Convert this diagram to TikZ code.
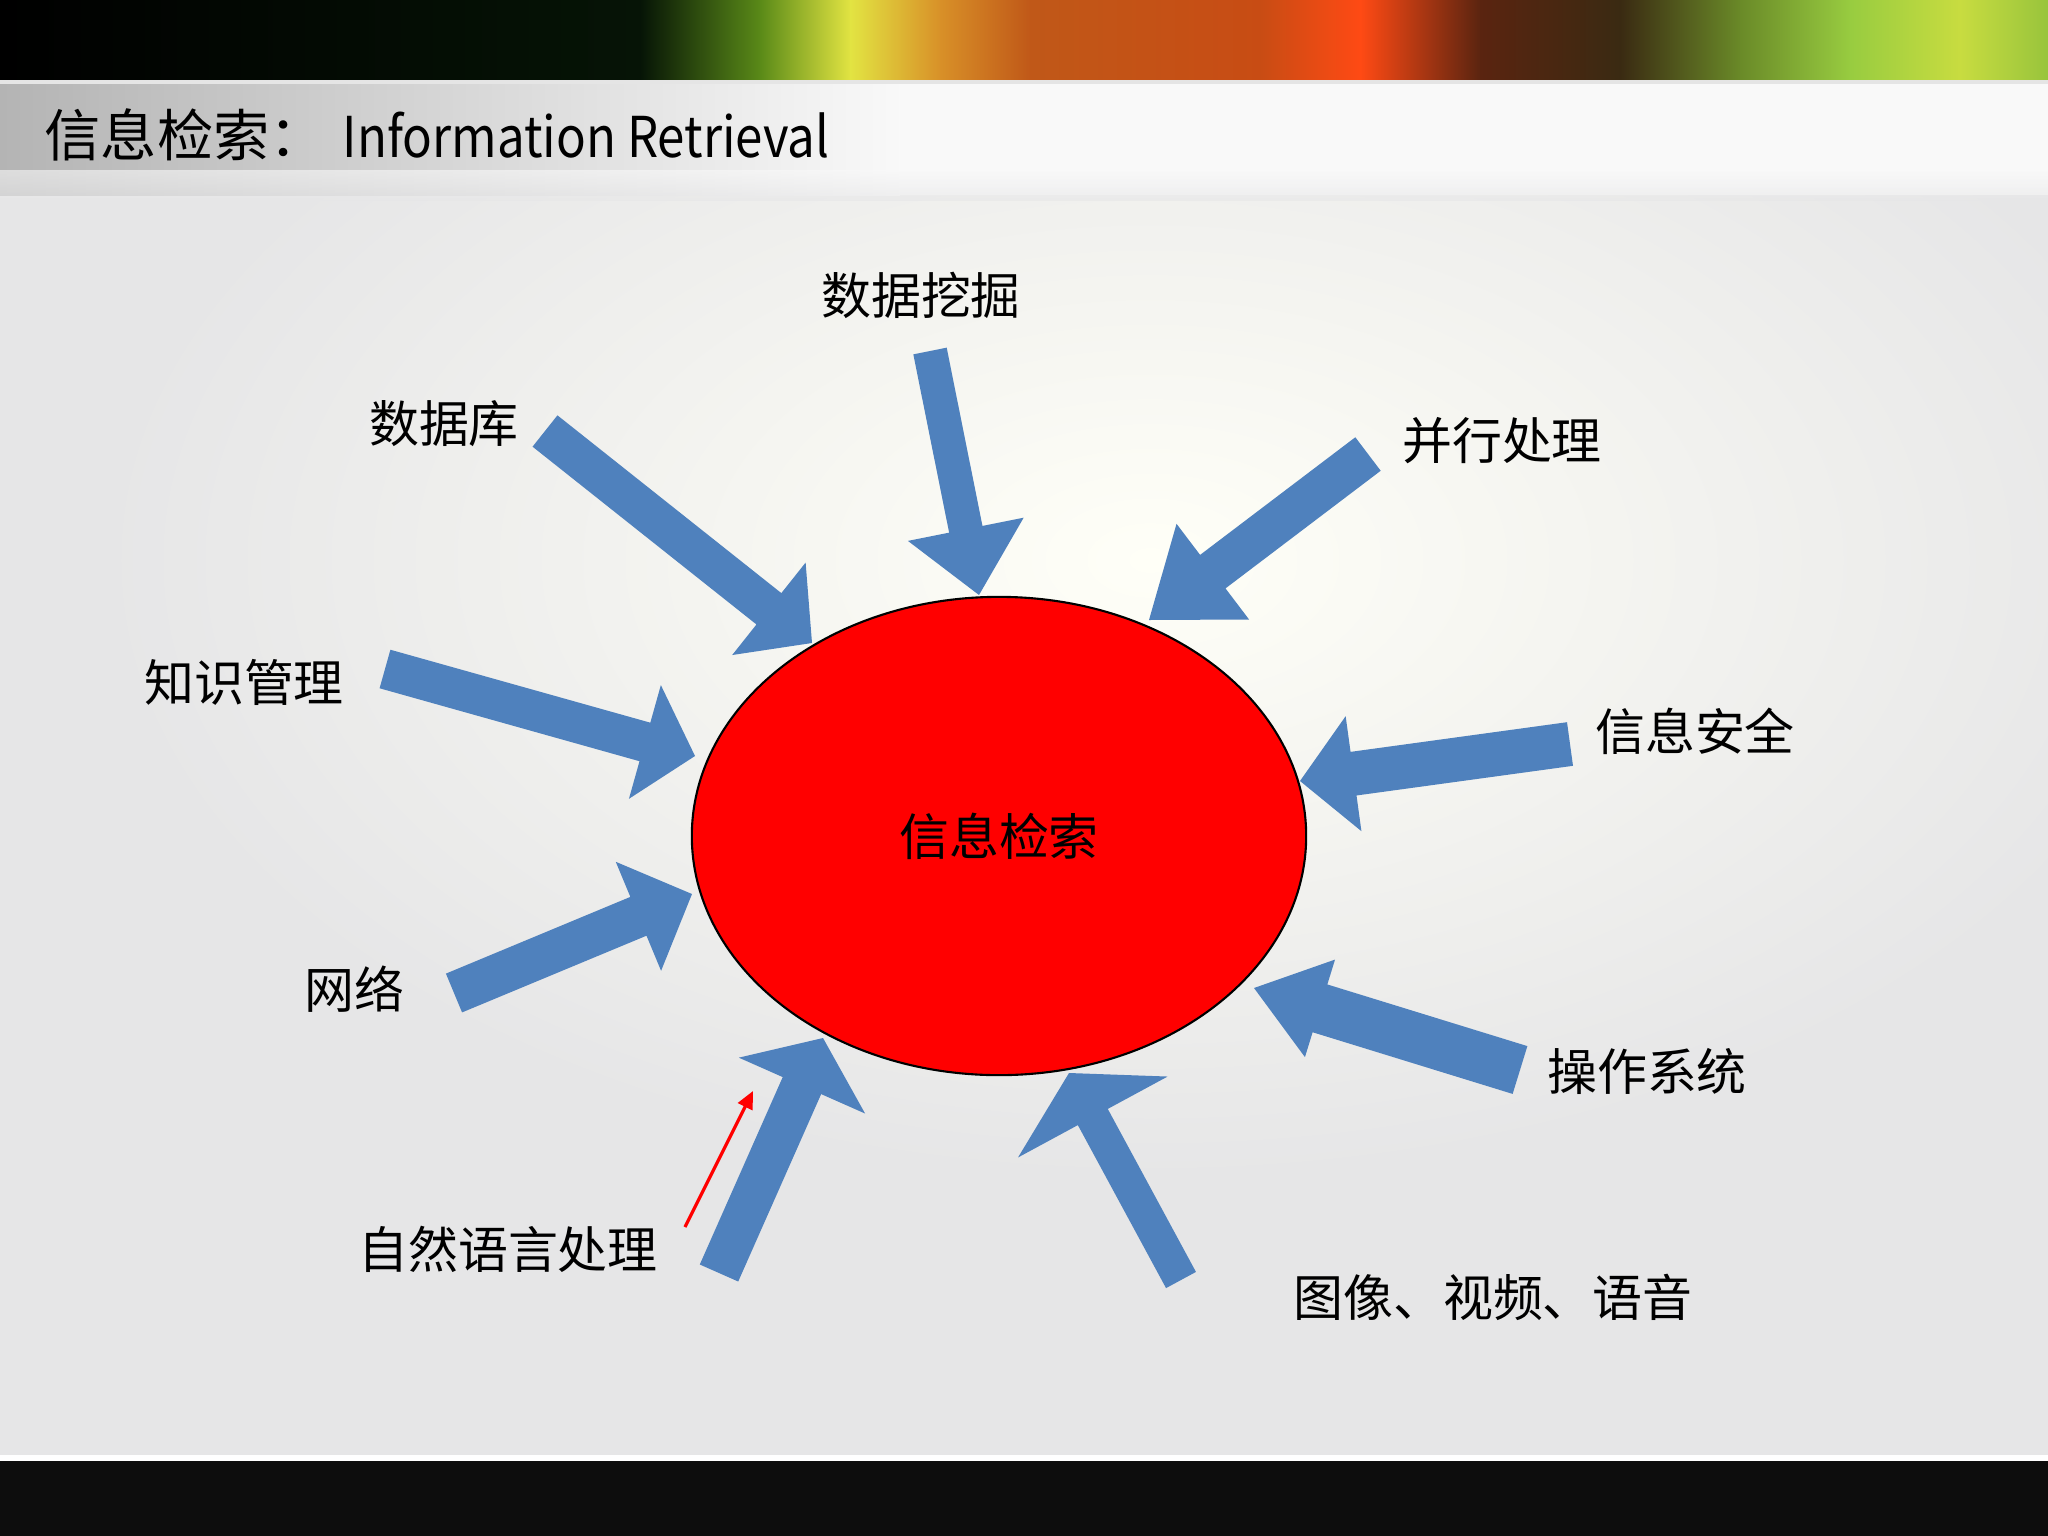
\documentclass[tikz,border=0pt]{standalone}
\usepackage{fontspec}
\newfontfamily\cjk{Noto Sans CJK SC}
\usetikzlibrary{calc,shapes.geometric,arrows.meta}

\definecolor{arrowblue}{HTML}{4F81BD}
\definecolor{bggray}{HTML}{E6E6E7}
\definecolor{titlegray}{HTML}{B4B4B4}
\definecolor{bara}{HTML}{000000}
\definecolor{barb}{HTML}{061406}
\definecolor{barc}{HTML}{5A8A18}
\definecolor{bard}{HTML}{E2E442}
\definecolor{bare}{HTML}{D89028}
\definecolor{barf}{HTML}{C05818}
\definecolor{barg}{HTML}{C84C14}
\definecolor{barh}{HTML}{FF4A14}
\definecolor{bari}{HTML}{5A2410}
\definecolor{barj}{HTML}{3A2A12}
\definecolor{bark}{HTML}{6A8A28}
\definecolor{barl}{HTML}{98CC40}
\definecolor{barm}{HTML}{C8DC40}
\definecolor{barn}{HTML}{98C43C}

\tikzset{
  lbl/.style={font=\cjk\fontsize{14.2}{17}\selectfont, inner sep=0pt},
  ttl/.style={font=\cjk\fontsize{16}{19}\selectfont, inner sep=0pt, anchor=west},
  blk/.style={fill=arrowblue},
}

% block arrow: tail, tip, half shaft, half head, head length
\newcommand{\blockarrow}[5]{%
  \coordinate (#1-base) at ($(#2)!#5!(#1)$);
  \fill[blk] ($(#1)!#3!90:(#2)$) -- ($(#1-base)!#3!-90:(#1)$)
    -- ($(#1-base)!#4!-90:(#1)$) -- (#2) -- ($(#1-base)!#4!90:(#1)$)
    -- ($(#1-base)!#3!90:(#1)$) -- ($(#1)!#3!-90:(#2)$) -- cycle;
}

\begin{document}
\begin{tikzpicture}[x=0.01cm,y=-0.01cm,>=latex]
  \useasboundingbox (0,0) rectangle (2048,1536);

  % background
  \fill[bggray] (0,190) rectangle (2048,1460);
  \begin{scope}
    \clip (0,190) rectangle (2048,1460);
    \shade[inner color=white!97!yellow, outer color=bggray] (1150,560) ellipse (1050 and 620);
  \end{scope}
  \shade[left color=titlegray, right color=white!95!gray] (0,80) rectangle (900,195);
  \fill[white!95!gray] (899,80) rectangle (2048,195);
  \shade[top color=white!95!gray, bottom color=bggray, opacity=0.6] (0,170) rectangle (2048,200);

  % top bar
  \foreach \xa/\ca/\xb/\cb in {0/bara/640/barb, 640/barb/760/barc, 760/barc/850/bard,
      850/bard/940/bare, 940/bare/1030/barf, 1030/barf/1260/barg, 1260/barg/1360/barh,
      1360/barh/1480/bari, 1480/bari/1620/barj, 1620/barj/1740/bark, 1740/bark/1850/barl,
      1850/barl/1960/barm, 1960/barm/2048/barn}
    \shade[left color=\ca, right color=\cb] (\xa,0) rectangle (\xb+1,80);
  \fill[white!80!gray] (0,80) rectangle (2048,84);

  % bottom bar
  \fill[white] (0,1455) rectangle (2048,1461);
  \fill[black!95] (0,1461) rectangle (2048,1536);

  % title
  \node[ttl] (title) at (44,135) {信息检索：};
  \node[ttl] (titleen) at (342,135) {\scalebox{0.875}[1]{Information Retrieval}};

  % centre
  \node[ellipse, draw, fill=red, line width=0.6pt, minimum width=6.14cm, minimum height=4.78cm,
        inner sep=0pt, lbl] (ir) at (999,836) {信息检索};

  % labels
  \node[lbl] (wajue)    at (921,295)  {数据挖掘};
  \node[lbl] (shujuku)  at (444,424)  {数据库};
  \node[lbl] (bingxing) at (1502,441) {并行处理};
  \node[lbl] (zhishi)   at (244,682)  {知识管理};
  \node[lbl] (anquan)   at (1695,731) {信息安全};
  \node[lbl] (wangluo)  at (354,989)  {网络};
  \node[lbl] (caozuo)   at (1647,1071) {操作系统};
  \node[lbl] (nlp)      at (508,1249) {自然语言处理};
  \node[lbl] (tuxiang)  at (1493,1297) {图像、视频、语音};

  % arrow ends
  \coordinate (shujuku-t)  at (545,431);  \coordinate (shujuku-p)  at (812,643);
  \coordinate (wajue-t)    at (930,351);  \coordinate (wajue-p)    at (979,595);
  \coordinate (bingxing-t) at (1368,454); \coordinate (bingxing-p) at (1149,620);
  \coordinate (zhishi-t)   at (385,669);  \coordinate (zhishi-p)   at (695,756);
  \coordinate (anquan-t)   at (1570,744); \coordinate (anquan-p)   at (1300,781);
  \coordinate (wangluo-t)  at (454,993);  \coordinate (wangluo-p)  at (692,894);
  \coordinate (nlp-t)      at (719,1273); \coordinate (nlp-p)      at (823,1038);
  \coordinate (caozuo-t)   at (1520,1070); \coordinate (caozuo-p)  at (1254,988);
  \coordinate (tuxiang-t)  at (1181,1280); \coordinate (tuxiang-p) at (1069,1073);

  \blockarrow{shujuku-t}{shujuku-p}{0.20cm}{0.59cm}{0.55cm}
  \blockarrow{wajue-t}{wajue-p}{0.17cm}{0.59cm}{0.67cm}
  \blockarrow{bingxing-t}{bingxing-p}{0.21cm}{0.60cm}{0.80cm}
  \blockarrow{zhishi-t}{zhishi-p}{0.20cm}{0.59cm}{0.52cm}
  \blockarrow{anquan-t}{anquan-p}{0.22cm}{0.58cm}{0.54cm}
  \blockarrow{wangluo-t}{wangluo-p}{0.21cm}{0.59cm}{0.58cm}
  \blockarrow{nlp-t}{nlp-p}{0.21cm}{0.69cm}{0.52cm}
  \blockarrow{caozuo-t}{caozuo-p}{0.25cm}{0.51cm}{0.69cm}
  \blockarrow{tuxiang-t}{tuxiang-p}{0.17cm}{0.85cm}{0.50cm}

  % small red pointer
  \coordinate (hint-a) at (685,1227);
  \coordinate (hint-b) at (753,1091);
  \draw[red, line width=0.9pt, -{Triangle[length=5pt,width=4.5pt]}] (hint-a) -- (hint-b);

\end{tikzpicture}
\end{document}
